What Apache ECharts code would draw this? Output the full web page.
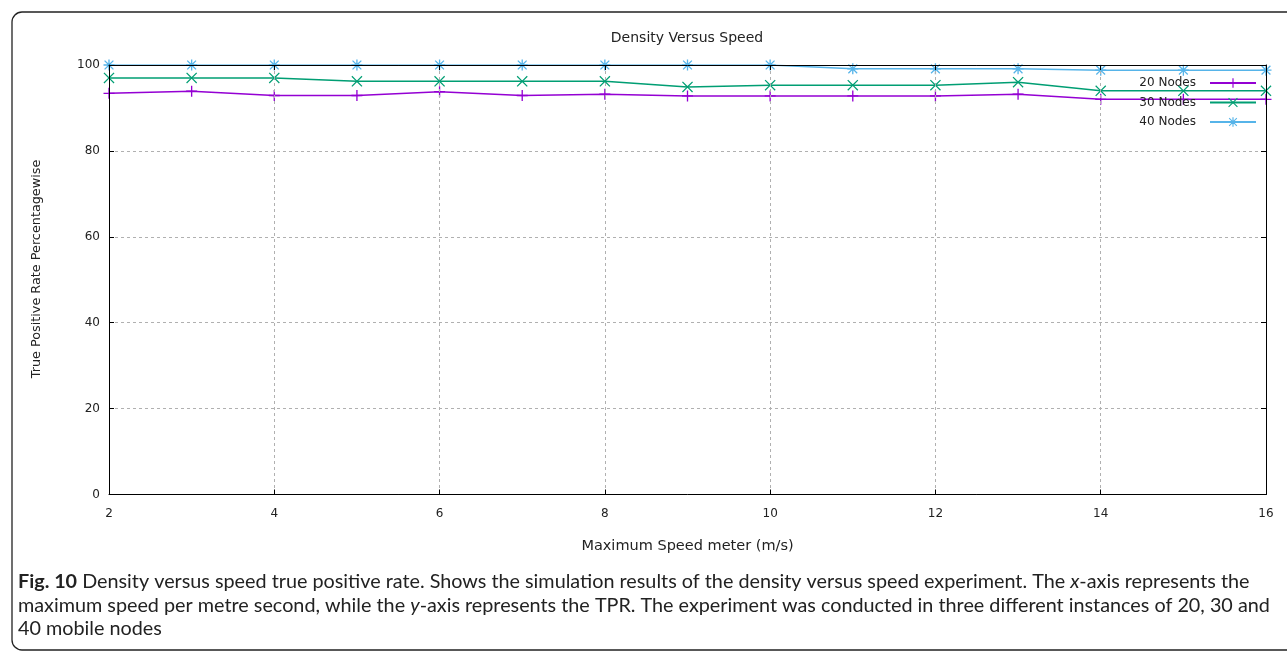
<!DOCTYPE html>
<html>
<head>
<meta charset="utf-8">
<script src="https://cdn.jsdelivr.net/npm/echarts@6/dist/echarts.min.js"></script>
<style>
html,body{margin:0;padding:0;background:#fff;}
#chart{width:1287px;height:653px;}
</style>
</head>
<body>
<div id="chart"></div>
<script>
var speeds = [2, 3, 4, 5, 6, 7, 8, 9, 10, 11, 12, 13, 14, 15, 16];
var nodes20 = [93.4, 93.9, 92.9, 92.9, 93.8, 92.9, 93.2, 92.8, 92.8, 92.8, 92.8, 93.2, 92.0, 92.0, 92.0];
var nodes30 = [97.0, 97.0, 97.0, 96.2, 96.2, 96.2, 96.2, 94.9, 95.3, 95.3, 95.3, 96.0, 94.0, 94.0, 94.0];
var nodes40 = [100, 100, 100, 100, 100, 100, 100, 100, 100, 99.1, 99.1, 99.1, 98.8, 98.8, 98.8];
var seriesNames = ['20 Nodes', '30 Nodes', '40 Nodes'];
var titleText = 'Density Versus Speed';
var xName = 'Maximum Speed meter (m/s)';
var yName = 'True Positive Rate Percentagewise';
var captionLines = [
  ['Fig. 10', ' Density versus speed true positive rate. Shows the simulation results of the density versus speed experiment. The ', 'x', '-axis represents the'],
  ['', 'maximum speed per metre second, while the ', 'y', '-axis represents the TPR. The experiment was conducted in three different instances of 20, 30 and'],
  ['', '40 mobile nodes', '', '']
];

function pairs(ys) { return speeds.map(function (x, i) { return [x, ys[i]]; }); }

var plusPath = 'path://M4.4,0H5.6V4.4H10V5.6H5.6V10H4.4V5.6H0V4.4H4.4Z';
var crossPath = 'path://M0.8,0L5,4.2L9.2,0L10,0.8L5.8,5L10,9.2L9.2,10L5,5.8L0.8,10L0,9.2L4.2,5L0,0.8Z';
var starPath = 'path://M4.4,0H5.6V4.4H10V5.6H5.6V10H4.4V5.6H0V4.4H4.4Z M1.4,0.6L5,4.2L8.6,0.6L9.4,1.4L5.8,5L9.4,8.6L8.6,9.4L5,5.8L1.4,9.4L0.6,8.6L4.2,5L0.6,1.4Z';

var colors = ['#9400d3', '#009e73', '#56b4e9'];
var symbols = [plusPath, crossPath, starPath];
var dataSets = [nodes20, nodes30, nodes40];

var font = 'DejaVu Sans';
var capFont = 'Lato';
var capSize = 19.8;
var chart = echarts.init(document.getElementById('chart'));

var captionGraphics = captionLines.map(function (l, i) {
  return {
    type: 'text',
    left: 18,
    top: 572 + i * 23.5,
    style: {
      text: (l[0] ? '{b|' + l[0] + '}' : '') + '{n|' + l[1] + '}' + (l[2] ? '{i|' + l[2] + '}' : '') + (l[3] ? '{n|' + l[3] + '}' : ''),
      rich: {
        b: { fontFamily: capFont, fontWeight: 'bold', fontSize: capSize, fill: '#222', textFill: '#222' },
        n: { fontFamily: capFont, fontSize: capSize, fill: '#222', textFill: '#222' },
        i: { fontFamily: capFont, fontStyle: 'italic', fontSize: capSize, fill: '#222', textFill: '#222' }
      }
    }
  };
});

var option = {
  animation: false,
  backgroundColor: '#fff',
  color: colors,
  title: {
    text: titleText,
    left: 682,
    textAlign: 'center',
    top: 26,
    textStyle: { fontFamily: font, fontSize: 14, fontWeight: 'normal', color: '#222' }
  },
  legend: {
    orient: 'vertical',
    right: 25,
    top: 72,
    align: 'right',
    itemWidth: 46,
    itemHeight: 12,
    itemGap: 7.5,
    data: seriesNames,
    textStyle: { fontFamily: font, fontSize: 12, color: '#222', padding: [0, 9, 0, 0] }
  },
  grid: { left: 109, right: 21, top: 65, bottom: 158.5 },
  xAxis: [{
    type: 'value',
    min: 2, max: 16, interval: 2,
    name: xName,
    nameLocation: 'middle',
    nameGap: 44,
    nameTextStyle: { fontFamily: font, fontSize: 14.5, color: '#222' },
    axisLine: { show: true, onZero: false, lineStyle: { color: '#000', width: 1 } },
    axisTick: { show: true, inside: true, length: 5, lineStyle: { color: '#000' } },
    axisLabel: { fontFamily: font, fontSize: 12, color: '#222', margin: 13 },
    splitLine: { show: true, lineStyle: { color: '#b0b0b0', type: [3, 3], width: 1 } },
    z: 5
  }, {
    type: 'value',
    position: 'top',
    min: 2, max: 16, interval: 2,
    axisLine: { show: true, onZero: false, lineStyle: { color: '#000', width: 1 } },
    axisTick: { show: true, inside: true, length: 5, lineStyle: { color: '#000' } },
    axisLabel: { show: false },
    splitLine: { show: false },
    z: 5
  }],
  yAxis: [{
    type: 'value',
    min: 0, max: 100, interval: 20,
    axisLine: { show: true, onZero: false, lineStyle: { color: '#000', width: 1 } },
    axisTick: { show: true, inside: true, length: 5, lineStyle: { color: '#000' } },
    axisLabel: { fontFamily: font, fontSize: 12, color: '#222', margin: 9 },
    splitLine: { show: true, lineStyle: { color: '#b0b0b0', type: [3, 3], width: 1 } },
    z: 5
  }, {
    type: 'value',
    position: 'right',
    min: 0, max: 100, interval: 20,
    axisLine: { show: true, onZero: false, lineStyle: { color: '#000', width: 1 } },
    axisTick: { show: true, inside: true, length: 5, lineStyle: { color: '#000' } },
    axisLabel: { show: false },
    splitLine: { show: false },
    z: 5
  }],
  series: seriesNames.map(function (name, i) {
    return {
      name: name,
      type: 'line',
      data: pairs(dataSets[i]),
      symbol: symbols[i],
      symbolSize: 11,
      showSymbol: true,
      lineStyle: { color: colors[i], width: 1.5 },
      itemStyle: { color: colors[i] },
      z: 2 + i
    };
  }),
  graphic: [{
    type: 'rect',
    left: 9.5, top: 9.5,
    shape: { width: 1320, height: 638, r: 10 },
    style: { fill: 'none', stroke: '#222', lineWidth: 1.3 },
    silent: true
  }, {
    type: 'text',
    x: 37, y: 269,
    rotation: Math.PI / 2,
    style: {
      text: yName,
      fontFamily: font, fontSize: 12.8, fill: '#222',
      align: 'center', verticalAlign: 'middle'
    }
  }].concat(captionGraphics)
};
chart.setOption(option);
</script>
</body>
</html>
